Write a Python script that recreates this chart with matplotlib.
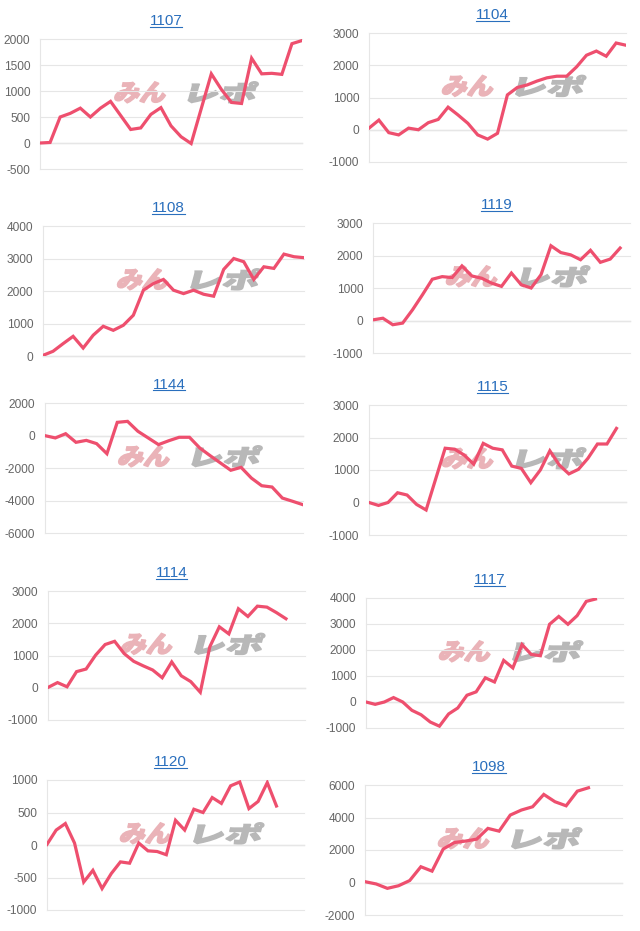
#!/usr/bin/env python3

import matplotlib
matplotlib.use("Agg")
import matplotlib.pyplot as plt
import numpy as np
from matplotlib.font_manager import FontProperties
from matplotlib.lines import Line2D
from matplotlib.patches import PathPatch
from matplotlib.textpath import TextPath
from matplotlib.transforms import Affine2D

plt.rcParams["font.family"] = ["Liberation Sans", "DejaVu Sans"]
plt.rcParams["axes.unicode_minus"] = False

# machine numbers (panel titles), left column then right column by row
names = ["1107", "1104", "1108", "1119", "1144", "1115", "1114", "1117", "1120", "1098"]

# daily cumulative values
v1107 = [0, 10, 500, 570, 670, 500, 670, 800, 530, 260, 290, 550, 680, 330,
         120, -10, 660, 1330, 1030, 780, 760, 1630, 1330, 1340, 1320, 1910, 1970]
v1104 = [50, 300, -90, -160, 50, 0, 220, 320, 700, 460, 200, -160, -290, -110,
         1080, 1310, 1390, 1510, 1610, 1660, 1660, 1950, 2310, 2440, 2280, 2690, 2620]
v1108 = [20, 145, 380, 605, 245, 640, 915, 790, 945, 1255, 2025, 2230, 2355, 2025,
         1920, 2025, 1900, 1840, 2665, 3000, 2900, 2355, 2745, 2695, 3135, 3055, 3025]
v1119 = [20, 70, -130, -80, 330, 790, 1270, 1350, 1320, 1680, 1370, 1300, 1150,
         1050, 1460, 1100, 1000, 1410, 2300, 2090, 2020, 1870, 2160, 1790, 1890, 2230]
v1144 = [-10, -150, 110, -420, -300, -500, -1120, 810, 870, 260, -150, -560, -320,
         -110, -110, -770, -1240, -1690, -2140, -1960, -2620, -3090, -3170, -3850,
         -4050, -4260]
v1115 = [0, -90, 0, 300, 230, -60, -230, 720, 1670, 1640, 1460, 1180, 1820, 1670,
         1620, 1120, 1050, 610, 1000, 1590, 1150, 880, 1020, 1360, 1800, 1800, 2280]
v1114 = [10, 160, 30, 500, 580, 1010, 1340, 1440, 1060, 820, 680, 550, 310, 800,
         370, 190, -140, 1270, 1890, 1670, 2450, 2210, 2530, 2500, 2330, 2140]
v1117 = [0, -90, 0, 170, 0, -320, -490, -770, -930, -460, -230, 260, 390, 930,
         770, 1600, 1310, 2210, 1830, 1780, 2990, 3290, 2990, 3320, 3870, 3960]
v1120 = [10, 230, 330, 30, -570, -390, -670, -440, -260, -280, 30, -90, -100,
         -150, 380, 230, 550, 500, 730, 640, 910, 970, 560, 670, 960, 600]
v1098 = [50, -90, -360, -200, 120, 970, 700, 2060, 2460, 2550, 2670, 3330, 3160,
         4150, 4460, 4660, 5420, 4970, 4720, 5620, 5830]

series = [v1107, v1104, v1108, v1119, v1144, v1115, v1114, v1117, v1120, v1098]

# y axis range and step per panel
y_lo = [-500, -1000, 0, -1000, -6000, -1000, -1000, -1000, -1000, -2000]
y_hi = [2000, 3000, 4000, 3000, 2000, 3000, 3000, 4000, 1000, 6000]
y_step = [500, 1000, 1000, 1000, 2000, 1000, 1000, 1000, 500, 2000]
# number of day slots on the x axis
x_slots = [26, 26, 26, 26, 25, 27, 27, 28, 28, 23]

W, H = 640, 931
# plot area boxes in pixels: left, right, top, bottom
boxes = [
    (40, 302, 39, 169), (369, 626, 33, 162),
    (43, 304, 226, 356), (373, 630, 223, 353),
    (45, 303, 403, 533), (369, 626, 405, 535),
    (48, 305, 591, 720), (366, 623, 598, 728),
    (47, 304, 780, 910), (365, 622, 785, 915),
]

LINE = "#ee4f6e"
GRID = "#e6e6e6"
TICK = "#666666"
TITLE = "#2a6fbd"

fig = plt.figure(figsize=(W / 100, H / 100), dpi=100)
renderer = fig.canvas.get_renderer()
logo_fp = FontProperties(family="Noto Sans CJK JP", weight="heavy")


def watermark(ax, l, r, t, b):
    # "みん" pink + "レポ" gray, slanted like the site's logo
    x0 = l + 0.28 * (r - l)
    yc = H - (t + 0.41 * (b - t))
    p1 = TextPath((0, 0), "みん", size=26, prop=logo_fp)
    p2 = TextPath((0, 0), "レポ", size=26, prop=logo_fp)
    e1, e2 = p1.get_extents(), p2.get_extents()
    tr1 = (Affine2D().translate(-e1.x0, -e1.y0).scale(50 / e1.width, 21 / e1.height)
           .skew_deg(15, 0).translate(x0, yc - 10.5))
    tr2 = (Affine2D().translate(-e2.x0, -e2.y0).scale(66 / e2.width, 21 / e2.height)
           .skew_deg(15, 0).translate(x0 + 74, yc - 10.5))
    ax.add_artist(PathPatch(p1, transform=tr1, facecolor="#eab3b8", edgecolor="#eab3b8",
                            lw=1.1, zorder=1.5, clip_on=False))
    ax.add_artist(PathPatch(p2, transform=tr2, facecolor="#b8b8b8", edgecolor="#b8b8b8",
                            lw=1.1, zorder=1.5, clip_on=False))


for i, name in enumerate(names):
    l, r, t, b = boxes[i]
    ax = fig.add_axes([l / W, 1 - b / H, (r - l) / W, (b - t) / H])
    vals = series[i]
    ax.plot(np.arange(len(vals)), vals, color=LINE, lw=2.3, zorder=3,
            solid_joinstyle="miter")
    ax.set_xlim(0, x_slots[i])
    ax.set_ylim(y_lo[i], y_hi[i])
    ax.set_yticks(np.arange(y_lo[i], y_hi[i] + 1, y_step[i]))
    ax.set_xticks([])
    ax.grid(axis="y", color=GRID, lw=0.8, zorder=0)
    for gl in ax.get_ygridlines():
        gl.set_clip_on(False)
    ax.axhline(0, color="#cfcfcf", lw=0.9, zorder=1, clip_on=False)
    ax.tick_params(axis="y", length=0, pad=7, labelsize=8.6, labelcolor=TICK)
    for s in ["top", "right", "bottom"]:
        ax.spines[s].set_visible(False)
    ax.spines["left"].set_color(GRID)
    ax.spines["left"].set_linewidth(0.8)
    ax.set_facecolor("none")
    watermark(ax, l, r, t, b)

    # underlined link-style title
    cx = (l + r) / 2 - 5
    cy = t - 18
    txt = fig.text(cx / W, 1 - cy / H, name, ha="center", va="center",
                   color=TITLE, fontsize=11)
    bb = txt.get_window_extent(renderer=renderer)
    uy = bb.y0 + 1.5
    fig.add_artist(Line2D([bb.x0 / W, bb.x1 / W], [uy / H, uy / H],
                          color=TITLE, lw=0.8))

fig.savefig("out.png", dpi=100)
